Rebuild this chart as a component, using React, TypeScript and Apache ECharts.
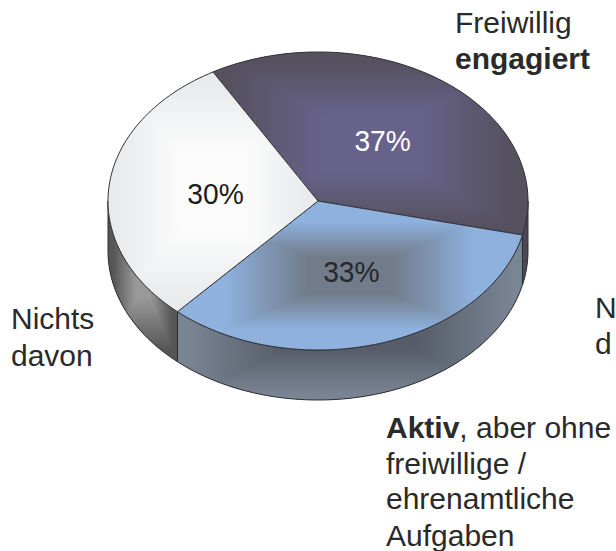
import React, { useEffect, useRef } from "react";
import * as echarts from "echarts";

const sliceNames = ["Freiwillig engagiert", "Aktiv, aber ohne freiwillige / ehrenamtliche Aufgaben", "Nichts davon"];
const sliceValues = [37, 33, 30];
const sliceLabels = ["37%", "33%", "30%"];
const labelColors = ["#ffffff", "#26282c", "#1c1c1c"];
const topEdge = ["#55515f", "#8eb1de", "#e8eaec"];
const topCentre = ["#67628a", "#717b89", "#fcfcfc"];
const sideEdge = ["#4b4757", "#7a8594", "#565656"];
const sideCentre = ["#4b4757", "#565d68", "#9a9a9a"];

const FONT = '"Liberation Sans", Arial, sans-serif';
const CX = 318, CY = 201, RX = 210, RY = 149, DEPTH = 50, START = 330;
const pt = (deg: number, dy = 0): number[] => {
  const a = (deg * Math.PI) / 180;
  return [CX + RX * Math.sin(a), CY - RY * Math.cos(a) + dy];
};
const arc = (a0: number, a1: number, dy = 0): number[][] => {
  const out: number[][] = [];
  const n = Math.max(2, Math.ceil(Math.abs(a1 - a0) / 1.5));
  for (let i = 0; i <= n; i++) out.push(pt(a0 + ((a1 - a0) * i) / n, dy));
  return out;
};
const bbox = (pts: number[][]) => {
  const xs = pts.map((p) => p[0]);
  const ys = pts.map((p) => p[1]);
  return [Math.min(...xs), Math.min(...ys), Math.max(...xs), Math.max(...ys)];
};

// PowerPoint style "rectangular path" gradient: four mitred triangles, clipped to the shape
function mitre(points: number[][], edge: string, centre: string, s0: number, s1: number) {
  const [x0, y0, x1, y1] = bbox(points);
  const mx = (x0 + x1) / 2, my = (y0 + y1) / 2;
  const stops = [
    { offset: 0, color: edge },
    { offset: s0, color: edge },
    { offset: s1, color: centre },
    { offset: 1, color: centre },
  ];
  const grad = (a: number, b: number, c: number, d: number) => ({ type: "linear", x: a, y: b, x2: c, y2: d, global: true, colorStops: stops });
  const e = 0.6;
  const tri = (pp: number[][], fill: any) => ({ type: "polygon", shape: { points: pp }, style: { fill, stroke: "none" } });
  return {
    type: "group",
    clipPath: { type: "polygon", shape: { points } },
    children: [
      tri([[x0, y0], [x1, y0], [mx, my + e]], grad(0, y0, 0, my)),
      tri([[x0, y1], [x1, y1], [mx, my - e]], grad(0, y1, 0, my)),
      tri([[x0, y0], [x0, y1], [mx + e, my]], grad(x0, 0, mx, 0)),
      tri([[x1, y0], [x1, y1], [mx - e, my]], grad(x1, 0, mx, 0)),
    ],
  };
}

const total = sliceValues.reduce((a, b) => a + b, 0);
const spans = sliceValues.map((_, i) => {
  const before = sliceValues.slice(0, i).reduce((a, b) => a + b, 0);
  return [START + (before / total) * 360, START + ((before + sliceValues[i]) / total) * 360];
});

function renderSlice(params: any) {
  const i = params.dataIndex;
  const [a0, a1] = spans[i];
  const children: any[] = [];
  // visible wall: front half of the ellipse, 90..270 degrees (also tested one turn on)
  for (const off of [0, 360]) {
    const w0 = Math.max(a0, 90 + off), w1 = Math.min(a1, 270 + off);
    if (w1 > w0) {
      const wall = [...arc(w0, w1), ...arc(w1, w0, DEPTH)];
      children.push({ type: "polygon", shape: { points: wall }, style: { fill: sideEdge[i], stroke: "none" } });
      children.push(mitre(wall, sideEdge[i], sideCentre[i], i === 1 ? 0.05 : 0.15, i === 1 ? 0.62 : 0.8));
      children.push({ type: "polygon", shape: { points: wall }, style: { fill: "none", stroke: "#2e2e33", lineWidth: 1 } });
    }
  }
  const top = [[CX, CY], ...arc(a0, a1)];
  children.push({ type: "polygon", shape: { points: top }, style: { fill: topEdge[i], stroke: "none" } });
  children.push(mitre(top, topEdge[i], topCentre[i], i === 1 ? 0.28 : 0.1, i === 1 ? 0.76 : 0.7));
  children.push({ type: "polygon", shape: { points: top }, style: { fill: "none", stroke: "#33333a", lineWidth: 1 } });
  const mid = (a0 + a1) / 2, r = (mid * Math.PI) / 180;
  children.push({
    type: "text",
    x: CX + 0.5 * RX * Math.sin(r) + 2,
    y: CY - 0.5 * RY * Math.cos(r),
    scaleX: 0.94,
    style: { text: sliceLabels[i], fill: labelColors[i], font: `30px ${FONT}`, align: "center", verticalAlign: "middle" },
  });
  return { type: "group", children };
}

const labelText = (text: string, x: number, y: number, weight = "normal") => ({
  type: "text",
  x,
  y,
  style: { text, fill: "#2a2a2a", font: `${weight} 30px ${FONT}`, verticalAlign: "middle" },
});

export default function App() {
  const ref = useRef<HTMLDivElement>(null);
  useEffect(() => {
    document.body.style.margin = "0";
    const chart = echarts.init(ref.current!, undefined, { renderer: "svg" });
    chart.setOption({
      animation: false,
      backgroundColor: "#ffffff",
      series: [
        {
          type: "custom",
          coordinateSystem: "none",
          renderItem: renderSlice,
          data: sliceValues.map((value, i) => ({ name: sliceNames[i], value })),
        },
      ],
      graphic: [
        labelText("Freiwillig", 455, 22),
        labelText("engagiert", 455, 58, "bold"),
        labelText("Nichts", 11, 318),
        labelText("davon", 11, 355),
        labelText("N", 595, 307),
        labelText("d", 595, 343),
        {
          type: "text",
          x: 386,
          y: 427,
          style: {
            text: "{b|Aktiv}{n|, aber ohne}",
            verticalAlign: "middle",
            rich: {
              b: { font: `bold 30px ${FONT}`, fill: "#2a2a2a" },
              n: { font: `30px ${FONT}`, fill: "#2a2a2a" },
            },
          },
        },
        labelText("freiwillige /", 386, 463),
        labelText("ehrenamtliche", 386, 498),
        labelText("Aufgaben", 386, 535),
      ],
    });
    return () => chart.dispose();
  }, []);
  return <div ref={ref} style={{ width: 616, height: 551 }} />;
}
